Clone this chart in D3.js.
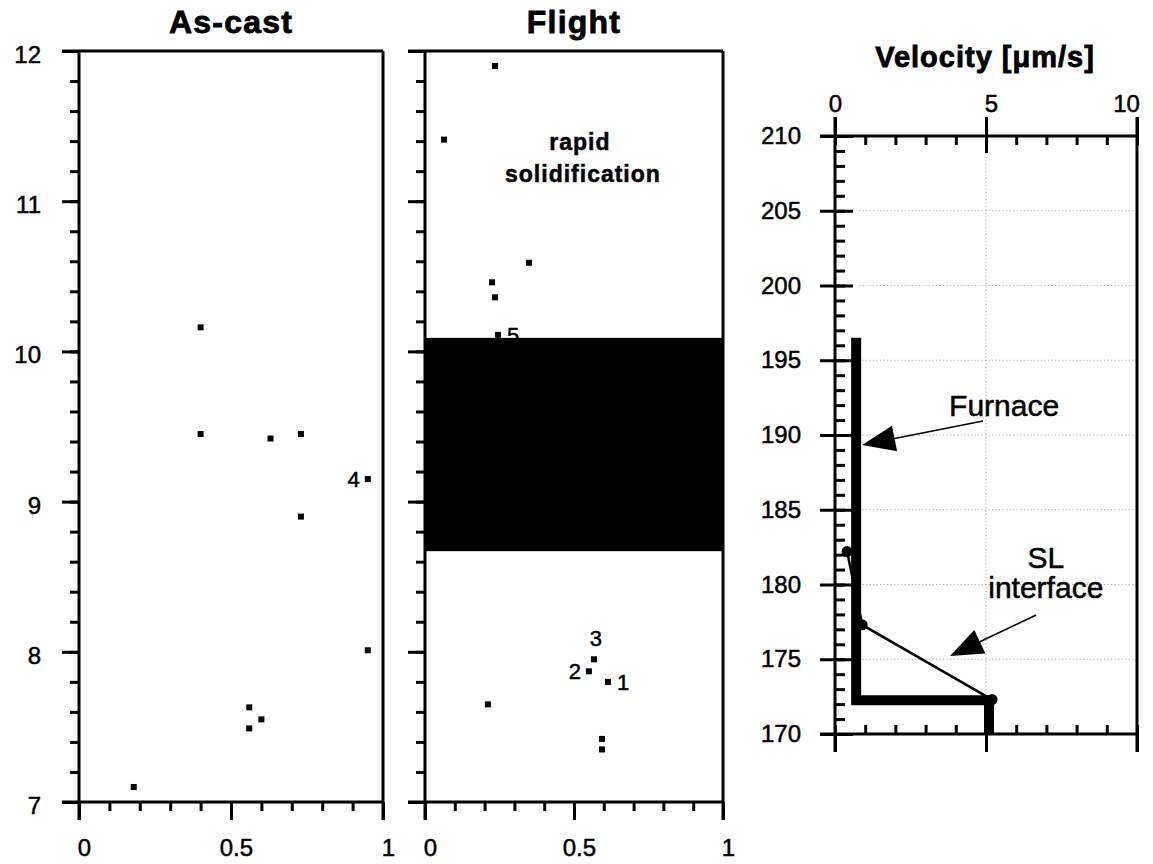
<!DOCTYPE html>
<html>
<head>
<meta charset="utf-8">
<script src="https://cdn.jsdelivr.net/npm/d3@7"></script>
<style>
  body { margin: 0; background: #fff; }
  svg { display: block; }
  text { font-family: "Liberation Sans", Arial, Helvetica, sans-serif; fill: #000; stroke: #000; stroke-width: 0.5px; }
</style>
</head>
<body>
<svg id="chart" width="1153" height="864"></svg>
<script>
// ---- data ----
const castX = [0.40, 0.40, 0.63, 0.73, 0.95, 0.73, 0.95, 0.56, 0.60, 0.56, 0.18];
const castY = [10.16, 9.45, 9.42, 9.45, 9.15, 8.90, 8.01, 7.63, 7.55, 7.49, 7.10];
const castLabels = ["", "", "", "", "4", "", "", "", "", "", ""];

const flightX = [0.235, 0.064, 0.349, 0.225, 0.235, 0.245, 0.211, 0.567, 0.55, 0.614, 0.594, 0.594];
const flightY = [11.90, 11.41, 10.59, 10.46, 10.36, 10.11, 7.65, 7.95, 7.87, 7.80, 7.42, 7.35];
const flightLabels = ["", "", "", "", "", "5", "", "3", "2", "1", "", ""];

const bandRange = [8.67, 10.09];

const furnaceV = [0.7, 0.7, 5.1, 5.1];
const furnaceZ = [196.5, 172.25, 172.25, 170];
const slV = [0.4, 0.9, 5.2];
const slZ = [182.2, 177.3, 172.3];

const fracTicks = [0, 0.5, 1];
const heightTicks = [7, 8, 9, 10, 11, 12];
const velTicks = [0, 5, 10];
const posTicks = [170, 175, 180, 185, 190, 195, 200, 205, 210];

const svg = d3.select("#chart");
const fontStack = "'Liberation Sans', Arial, Helvetica, sans-serif";

// shared vertical scale for the two left panels
const y = d3.scaleLinear().domain([7, 12]).range([802, 51]);
const xCast = d3.scaleLinear().domain([0, 1]).range([79, 383]);
const xFlight = d3.scaleLinear().domain([0, 1]).range([425, 723]);

function styleAxis(g) {
  g.attr("font-size", 24).attr("font-family", fontStack);
  g.select(".domain").remove();
  g.selectAll(".tick line").attr("stroke", "#000").attr("stroke-width", 3);
  g.selectAll(".tick text").attr("fill", "#000");
}

function drawPanel(x, xs, ys, labels, withYLabels, title) {
  // minor ticks
  svg.append("g").attr("transform", `translate(${x(0)},0)`)
    .call(d3.axisLeft(y).tickValues(d3.range(7, 12.01, 0.2)).tickSize(9).tickFormat(""))
    .call(styleAxis);
  svg.append("g").attr("transform", `translate(0,${y(7)})`)
    .call(d3.axisBottom(x).tickValues(d3.range(0, 1.01, 0.1)).tickSize(9).tickFormat(""))
    .call(styleAxis);
  // major ticks
  const ay = d3.axisLeft(y).tickValues(heightTicks).tickSize(17).tickPadding(21)
    .tickFormat(withYLabels ? d3.format("d") : "");
  svg.append("g").attr("transform", `translate(${x(0)},0)`)
    .call(ay).call(styleAxis)
    .selectAll(".tick text").attr("dy", "0.48em");
  svg.append("g").attr("transform", `translate(0,${y(7)})`)
    .call(d3.axisBottom(x).tickValues(fracTicks).tickSize(18).tickPadding(19).tickFormat(d3.format("")))
    .call(styleAxis)
    .selectAll(".tick text").attr("dx", "0.2em");

  // number labels (drawn before band so it can cover them)
  svg.append("g").selectAll("text")
    .data(labels.map((l, i) => ({ l, i })).filter(d => d.l))
    .join("text")
    .attr("x", d => x(xs[d.i]))
    .attr("y", d => y(ys[d.i]))
    .attr("font-size", 22)
    .text(d => d.l)
    .attr("text-anchor", d => (d.l === "4" || d.l === "2") ? "end" : (d.l === "3" ? "middle" : "start"))
    .attr("dx", d => (d.l === "4" || d.l === "2") ? -8 : (d.l === "3" ? 2 : 9))
    .attr("dy", d => d.l === "3" ? -13 : 8);

  // markers
  svg.append("g").selectAll("rect")
    .data(xs.map((v, i) => [v, ys[i]]))
    .join("rect")
    .attr("x", d => x(d[0]) - 3)
    .attr("y", d => y(d[1]) - 3)
    .attr("width", 6).attr("height", 6)
    .attr("fill", "#000");

  // frame
  const frame = svg.append("g").attr("stroke", "#000").attr("stroke-width", 3).attr("fill", "none");
  frame.append("line").attr("x1", x(0)).attr("x2", x(0)).attr("y1", y(12)).attr("y2", y(7) + 18);
  frame.append("line").attr("x1", x(0) - 17).attr("x2", x(1)).attr("y1", y(12)).attr("y2", y(12));
  frame.append("line").attr("x1", x(0) - 17).attr("x2", x(1)).attr("y1", y(7)).attr("y2", y(7));
  frame.append("line").attr("x1", x(1)).attr("x2", x(1)).attr("y1", y(12)).attr("y2", y(7) + 18);

  svg.append("text")
    .attr("x", (x(0) + x(1)) / 2)
    .attr("y", 33)
    .attr("text-anchor", "middle")
    .attr("font-size", 32)
    .attr("font-weight", "bold")
    .attr("letter-spacing", 1.2)
    .style("stroke-width", "0.8px")
    .text(title);
}

drawPanel(xCast, castX, castY, castLabels, true, "As-cast");
drawPanel(xFlight, flightX, flightY, flightLabels, false, "Flight");

// black band in the flight panel
svg.append("rect")
  .attr("x", xFlight(0))
  .attr("y", y(bandRange[1]))
  .attr("width", xFlight(1) - xFlight(0))
  .attr("height", y(bandRange[0]) - y(bandRange[1]))
  .attr("fill", "#000");

const annot = svg.append("g").attr("font-weight", "bold").attr("font-size", 23)
  .attr("text-anchor", "middle").attr("letter-spacing", 1);
annot.append("text").attr("x", xFlight(0.52)).attr("y", y(11.34)).text("rapid");
annot.append("text").attr("x", xFlight(0.53)).attr("y", y(11.13)).text("solidification");
annot.append("text").attr("x", xFlight(0.535)).attr("y", y(8.69)).text("transition");

// ---- velocity panel ----
const xv = d3.scaleLinear().domain([0, 10]).range([835, 1137]);
const yv = d3.scaleLinear().domain([170, 210]).range([734, 136]);

const grid = svg.append("g").attr("stroke", "#999").attr("stroke-width", 1)
  .attr("stroke-dasharray", "1,2.5");
grid.selectAll("line.h")
  .data(posTicks.filter(d => d > 170 && d < 210))
  .join("line")
  .attr("x1", xv(0.8)).attr("x2", xv(10))
  .attr("y1", d => yv(d)).attr("y2", d => yv(d));
grid.append("line").attr("x1", xv(5)).attr("x2", xv(5)).attr("y1", yv(210)).attr("y2", yv(170));

// minor ticks, inward
svg.append("g").attr("transform", `translate(${xv(0)},0)`)
  .call(d3.axisRight(yv).tickValues(d3.range(170, 210.5, 1)).tickSize(10).tickFormat(""))
  .call(styleAxis);
svg.append("g").attr("transform", `translate(0,${yv(210)})`)
  .call(d3.axisBottom(xv).tickValues(d3.range(0, 10.5, 1)).tickSize(9).tickFormat(""))
  .call(styleAxis);
svg.append("g").attr("transform", `translate(0,${yv(170)})`)
  .call(d3.axisTop(xv).tickValues(d3.range(0, 10.5, 1)).tickSize(9).tickFormat(""))
  .call(styleAxis);
// major ticks with labels
svg.append("g").attr("transform", `translate(${xv(0)},0)`)
  .call(d3.axisLeft(yv).tickValues(posTicks).tickSize(15).tickPadding(19).tickFormat(d3.format("d")))
  .call(styleAxis);
svg.append("g").attr("transform", `translate(${xv(0)},0)`)
  .call(d3.axisRight(yv).tickValues(posTicks).tickSize(18).tickFormat(""))
  .call(styleAxis);
svg.append("g").attr("transform", `translate(0,${yv(210)})`)
  .call(d3.axisTop(xv).tickValues(velTicks).tickSize(19).tickPadding(5).tickFormat(d3.format("d")))
  .call(styleAxis)
  .selectAll(".tick text").attr("text-anchor", d => d === 10 ? "end" : "middle")
  .attr("dx", d => d === 10 ? "0.1em" : (d === 5 ? "0.2em" : 0));
svg.append("g").attr("transform", `translate(0,${yv(210)})`)
  .call(d3.axisBottom(xv).tickValues([5]).tickSize(17).tickFormat(""))
  .call(styleAxis);
svg.append("g").attr("transform", `translate(0,${yv(170)})`)
  .call(d3.axisBottom(xv).tickValues(velTicks).tickSize(18).tickFormat(""))
  .call(styleAxis);

const vframe = svg.append("g").attr("stroke", "#000").attr("stroke-width", 3);
vframe.append("line").attr("x1", xv(0)).attr("x2", xv(0)).attr("y1", yv(210) - 19).attr("y2", yv(170) + 18);
vframe.append("line").attr("x1", xv(10)).attr("x2", xv(10)).attr("y1", yv(210) - 19).attr("y2", yv(170) + 18);
vframe.append("line").attr("x1", xv(0) - 15).attr("x2", xv(10)).attr("y1", yv(210)).attr("y2", yv(210));
vframe.append("line").attr("x1", xv(0) - 15).attr("x2", xv(10)).attr("y1", yv(170)).attr("y2", yv(170));

svg.append("text")
  .attr("x", 985).attr("y", 67)
  .attr("text-anchor", "middle")
  .attr("font-size", 29).attr("font-weight", "bold").attr("letter-spacing", 1)
  .style("stroke-width", "0.8px")
  .text("Velocity [μm/s]");

// SL interface (thin) under the furnace profile (thick), then its vertices
const line = d3.line().x(d => xv(d[0])).y(d => yv(d[1]));
const sl = slV.map((v, i) => [v, slZ[i]]);
svg.append("path").attr("d", line(sl))
  .attr("fill", "none").attr("stroke", "#000").attr("stroke-width", 2.5);
svg.append("path")
  .attr("d", line(furnaceV.map((v, i) => [v, furnaceZ[i]])))
  .attr("fill", "none").attr("stroke", "#000").attr("stroke-width", 10)
  .attr("stroke-linejoin", "miter").attr("stroke-linecap", "butt");
svg.append("g").selectAll("circle").data(sl).join("circle")
  .attr("cx", d => xv(d[0])).attr("cy", d => yv(d[1])).attr("r", 5.5).attr("fill", "#000");

// annotation arrows
function arrow(from, to) {
  const x1 = xv(from[0]), y1 = yv(from[1]), x2 = xv(to[0]), y2 = yv(to[1]);
  const a = Math.atan2(y2 - y1, x2 - x1);
  const len = 33, hw = 13;
  const bx = x2 - len * Math.cos(a), by = y2 - len * Math.sin(a);
  svg.append("line").attr("x1", x1).attr("y1", y1).attr("x2", bx).attr("y2", by)
    .attr("stroke", "#000").attr("stroke-width", 1.5);
  svg.append("path")
    .attr("d", `M${x2},${y2}L${bx - hw * Math.sin(a)},${by + hw * Math.cos(a)}L${bx + hw * Math.sin(a)},${by - hw * Math.cos(a)}Z`)
    .attr("fill", "#000");
}
arrow([4.9, 190.94], [0.9, 189.33]);
arrow([6.66, 177.96], [3.81, 175.22]);

const lbl = svg.append("g").attr("font-size", 30).attr("text-anchor", "middle");
lbl.append("text").attr("x", xv(5.6)).attr("y", yv(191.3)).text("Furnace");
lbl.append("text").attr("x", xv(6.98)).attr("y", yv(181.1)).text("SL");
lbl.append("text").attr("x", xv(6.98)).attr("y", yv(179.1)).text("interface");
</script>
</body>
</html>
